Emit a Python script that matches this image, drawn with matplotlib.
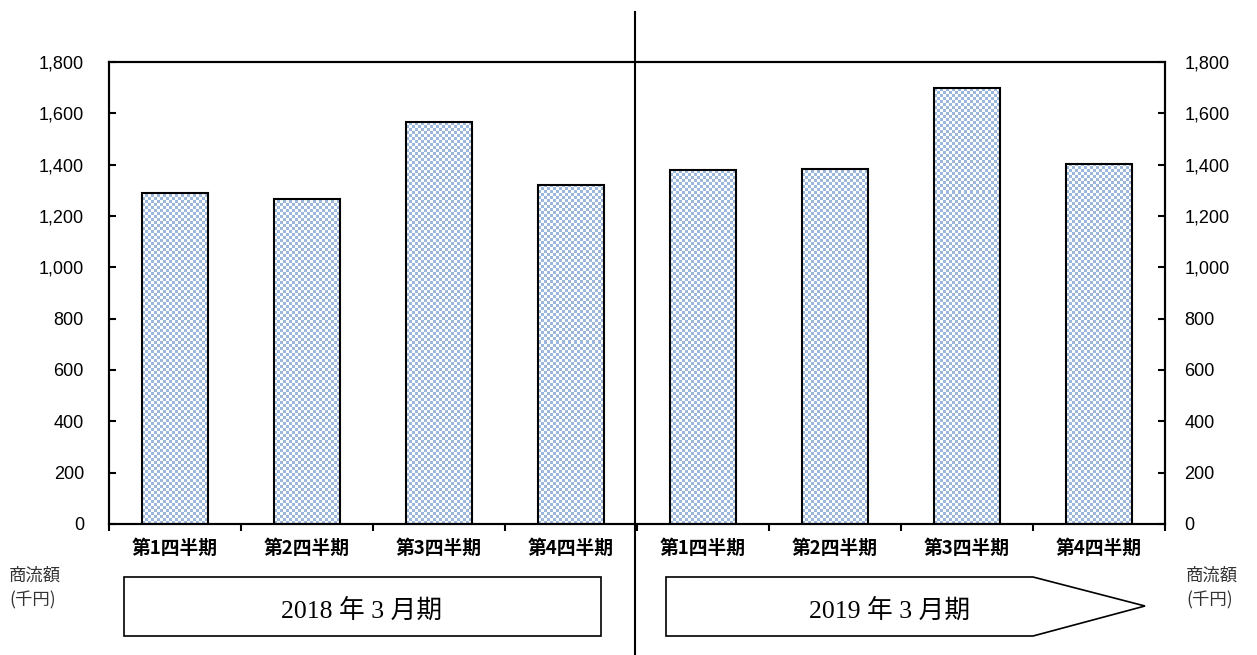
import matplotlib
matplotlib.use('Agg')
import matplotlib.pyplot as plt
import numpy as np
from matplotlib.patches import Polygon
from matplotlib.ticker import FuncFormatter

plt.rcParams['font.family'] = ['Liberation Sans', 'Noto Sans CJK JP', 'DejaVu Sans']

# data
quarters = ['第1四半期', '第2四半期', '第3四半期', '第4四半期',
            '第1四半期', '第2四半期', '第3四半期', '第4四半期']
sales = [1288, 1266, 1566, 1321, 1379, 1383, 1700, 1404]
periods = ['2018 年 3 月期', '2019 年 3 月期']
unit_label = '商流額\n(千円)'
y_ticks = [0, 200, 400, 600, 800, 1000, 1200, 1400, 1600, 1800]

W, H, DPI = 1257, 655, 100
fig = plt.figure(figsize=(W / DPI, H / DPI), dpi=DPI)
ax = fig.add_axes([109 / W, 1 - 524 / H, (1165 - 109) / W, (524 - 62) / H])

def fx(px):
    return px / W

def fy(py):
    return 1 - py / H

x = np.arange(len(sales))
bars = ax.bar(x, sales, width=0.5, facecolor='none', edgecolor='black',
              linewidth=1.5, zorder=3)

# checkerboard fill, ~3 px cells, clipped to each bar
nx, ny = int((1165 - 109) / 3), int((524 - 62) / 3)
checker = (np.add.outer(np.arange(ny), np.arange(nx)) % 2).astype(float)
cmap = matplotlib.colors.ListedColormap(['white', '#9BB8DC'])
for b in bars:
    im = ax.imshow(checker, cmap=cmap, interpolation='nearest', aspect='auto',
                   extent=(-0.5, len(sales) - 0.5, 0, 1800), origin='lower', zorder=2)
    im.set_clip_path(b)
ax.set_xlim(-0.5, len(sales) - 0.5)
ax.set_ylim(0, 1800)

ax.set_xticks(np.arange(len(sales) + 1) - 0.5)
ax.set_xticklabels([])
ax.set_xticks(x, minor=True)
ax.set_xticklabels(quarters, minor=True, fontsize=13.5, fontweight='bold',
                   family=['Noto Sans CJK JP'])
ax.tick_params(axis='x', which='major', direction='out', length=5, width=1.5)
ax.tick_params(axis='x', which='minor', length=0, pad=11)

fmt = FuncFormatter(lambda v, p: f'{int(v):,}')
ax.set_yticks(y_ticks)
ax.yaxis.set_major_formatter(fmt)
ax.tick_params(axis='y', direction='in', length=5, width=1.5, pad=18, labelsize=13)

ax2 = ax.twinx()
ax2.set_ylim(0, 1800)
ax2.set_yticks(y_ticks)
ax2.yaxis.set_major_formatter(fmt)
ax2.tick_params(axis='y', direction='in', length=5, width=1.5, pad=14, labelsize=13)

for a in (ax, ax2):
    for s in a.spines.values():
        s.set_linewidth(1.5)

# divider between fiscal years
fig.add_artist(plt.Line2D([fx(635), fx(635)], [fy(12), 0], color='black', lw=1.5))

# period boxes
serif = ['Liberation Serif', 'Noto Sans CJK JP']
left_box = [(124, 577), (601, 577), (601, 636), (124, 636)]
arrow_box = [(666, 577), (1033, 577), (1145, 606), (1033, 636), (666, 636)]
for pts in (left_box, arrow_box):
    fig.add_artist(Polygon([(fx(a), fy(b)) for a, b in pts], closed=True,
                           transform=fig.transFigure, facecolor='white',
                           edgecolor='black', linewidth=1.2))
fig.text(fx(362), fy(611), periods[0], ha='center', va='center', fontsize=18.5, family=serif)
fig.text(fx(890), fy(611), periods[1], ha='center', va='center', fontsize=18.5, family=serif)

fig.text(fx(9), fy(567), unit_label, ha='left', va='top', fontsize=12.5,
         family=['Noto Sans CJK JP'], linespacing=1.45, color='#333333')
fig.text(fx(1186), fy(567), unit_label, ha='left', va='top', fontsize=12.5,
         family=['Noto Sans CJK JP'], linespacing=1.45, color='#333333')

fig.savefig('out.png', dpi=DPI, facecolor='white')
